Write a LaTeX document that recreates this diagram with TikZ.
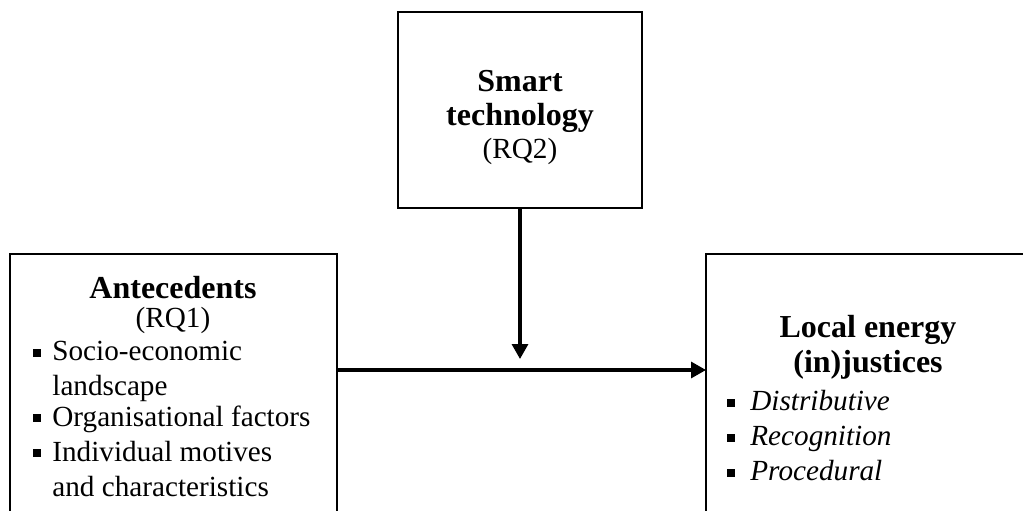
\documentclass[tikz,border=0pt]{standalone}
\usepackage{fontspec}
\setmainfont{Liberation Serif}
\usetikzlibrary{arrows.meta}
\begin{document}
\begin{tikzpicture}[x=0.5pt,y=-0.5pt,
  boxstyle/.style={draw, line width=1.3pt, inner sep=0pt, outer sep=0pt, anchor=north west},
  conn/.style={line width=1.6pt, -{Triangle[length=7.5pt,width=8pt]}},
  head/.style={font=\fontsize{16}{18}\selectfont\bfseries, inner sep=0pt, anchor=base},
  sub/.style={font=\fontsize{14.6}{17.5}\selectfont, inner sep=0pt, anchor=base},
  item/.style={font=\fontsize{14.6}{17.5}\selectfont, inner sep=0pt, anchor=base west},
  bul/.style={fill, minimum size=3.8pt, inner sep=0pt, outer sep=0pt}
]
\clip (0,0) rectangle (1023,510);
% boxes
\node[boxstyle, minimum width=244*0.5pt, minimum height=196*0.5pt] (tech) at (398,12) {};
\node[boxstyle, minimum width=327*0.5pt, minimum height=153pt] (ant) at (10,254) {};
\node[boxstyle, minimum width=200pt, minimum height=153pt] (loc) at (706,254) {};
% smart technology text
\node[head] (t1) at (520,91) {Smart};
\node[head] (t2) at (520,125) {technology};
\node[sub] (t3) at (520,158) {(RQ2)};
% antecedents text
\node[head] (a1) at (173,298) {Antecedents};
\node[sub] (a2) at (173,327) {(RQ1)};
\node[bul] (ab1) at (37,353) {};
\node[item] (ai1) at (52,360) {Socio-economic};
\node[item] (ai1b) at (52,395) {landscape};
\node[bul] (ab2) at (37,418) {};
\node[item] (ai2) at (52,426) {Organisational factors};
\node[bul] (ab3) at (37,453) {};
\node[item] (ai3) at (52,461) {Individual motives};
\node[item] (ai3b) at (52,496) {and characteristics};
% local energy text
\node[head] (l1) at (868,337) {Local energy};
\node[head] (l2) at (868,372) {(in)justices};
\node[bul] (lb1) at (731,403) {};
\node[item] (li1) at (750,410) {\itshape Distributive};
\node[bul] (lb2) at (731,438) {};
\node[item] (li2) at (750,445) {\itshape Recognition};
\node[bul] (lb3) at (731,473) {};
\node[item] (li3) at (750,480) {\itshape Procedural};
% connectors
\coordinate (hl) at (0,370);
\coordinate (mid) at (520,359);
\draw[conn] (tech.south) -- (mid);
\draw[conn] (ant.east |- hl) -- (loc.west |- hl);
\end{tikzpicture}
\end{document}
